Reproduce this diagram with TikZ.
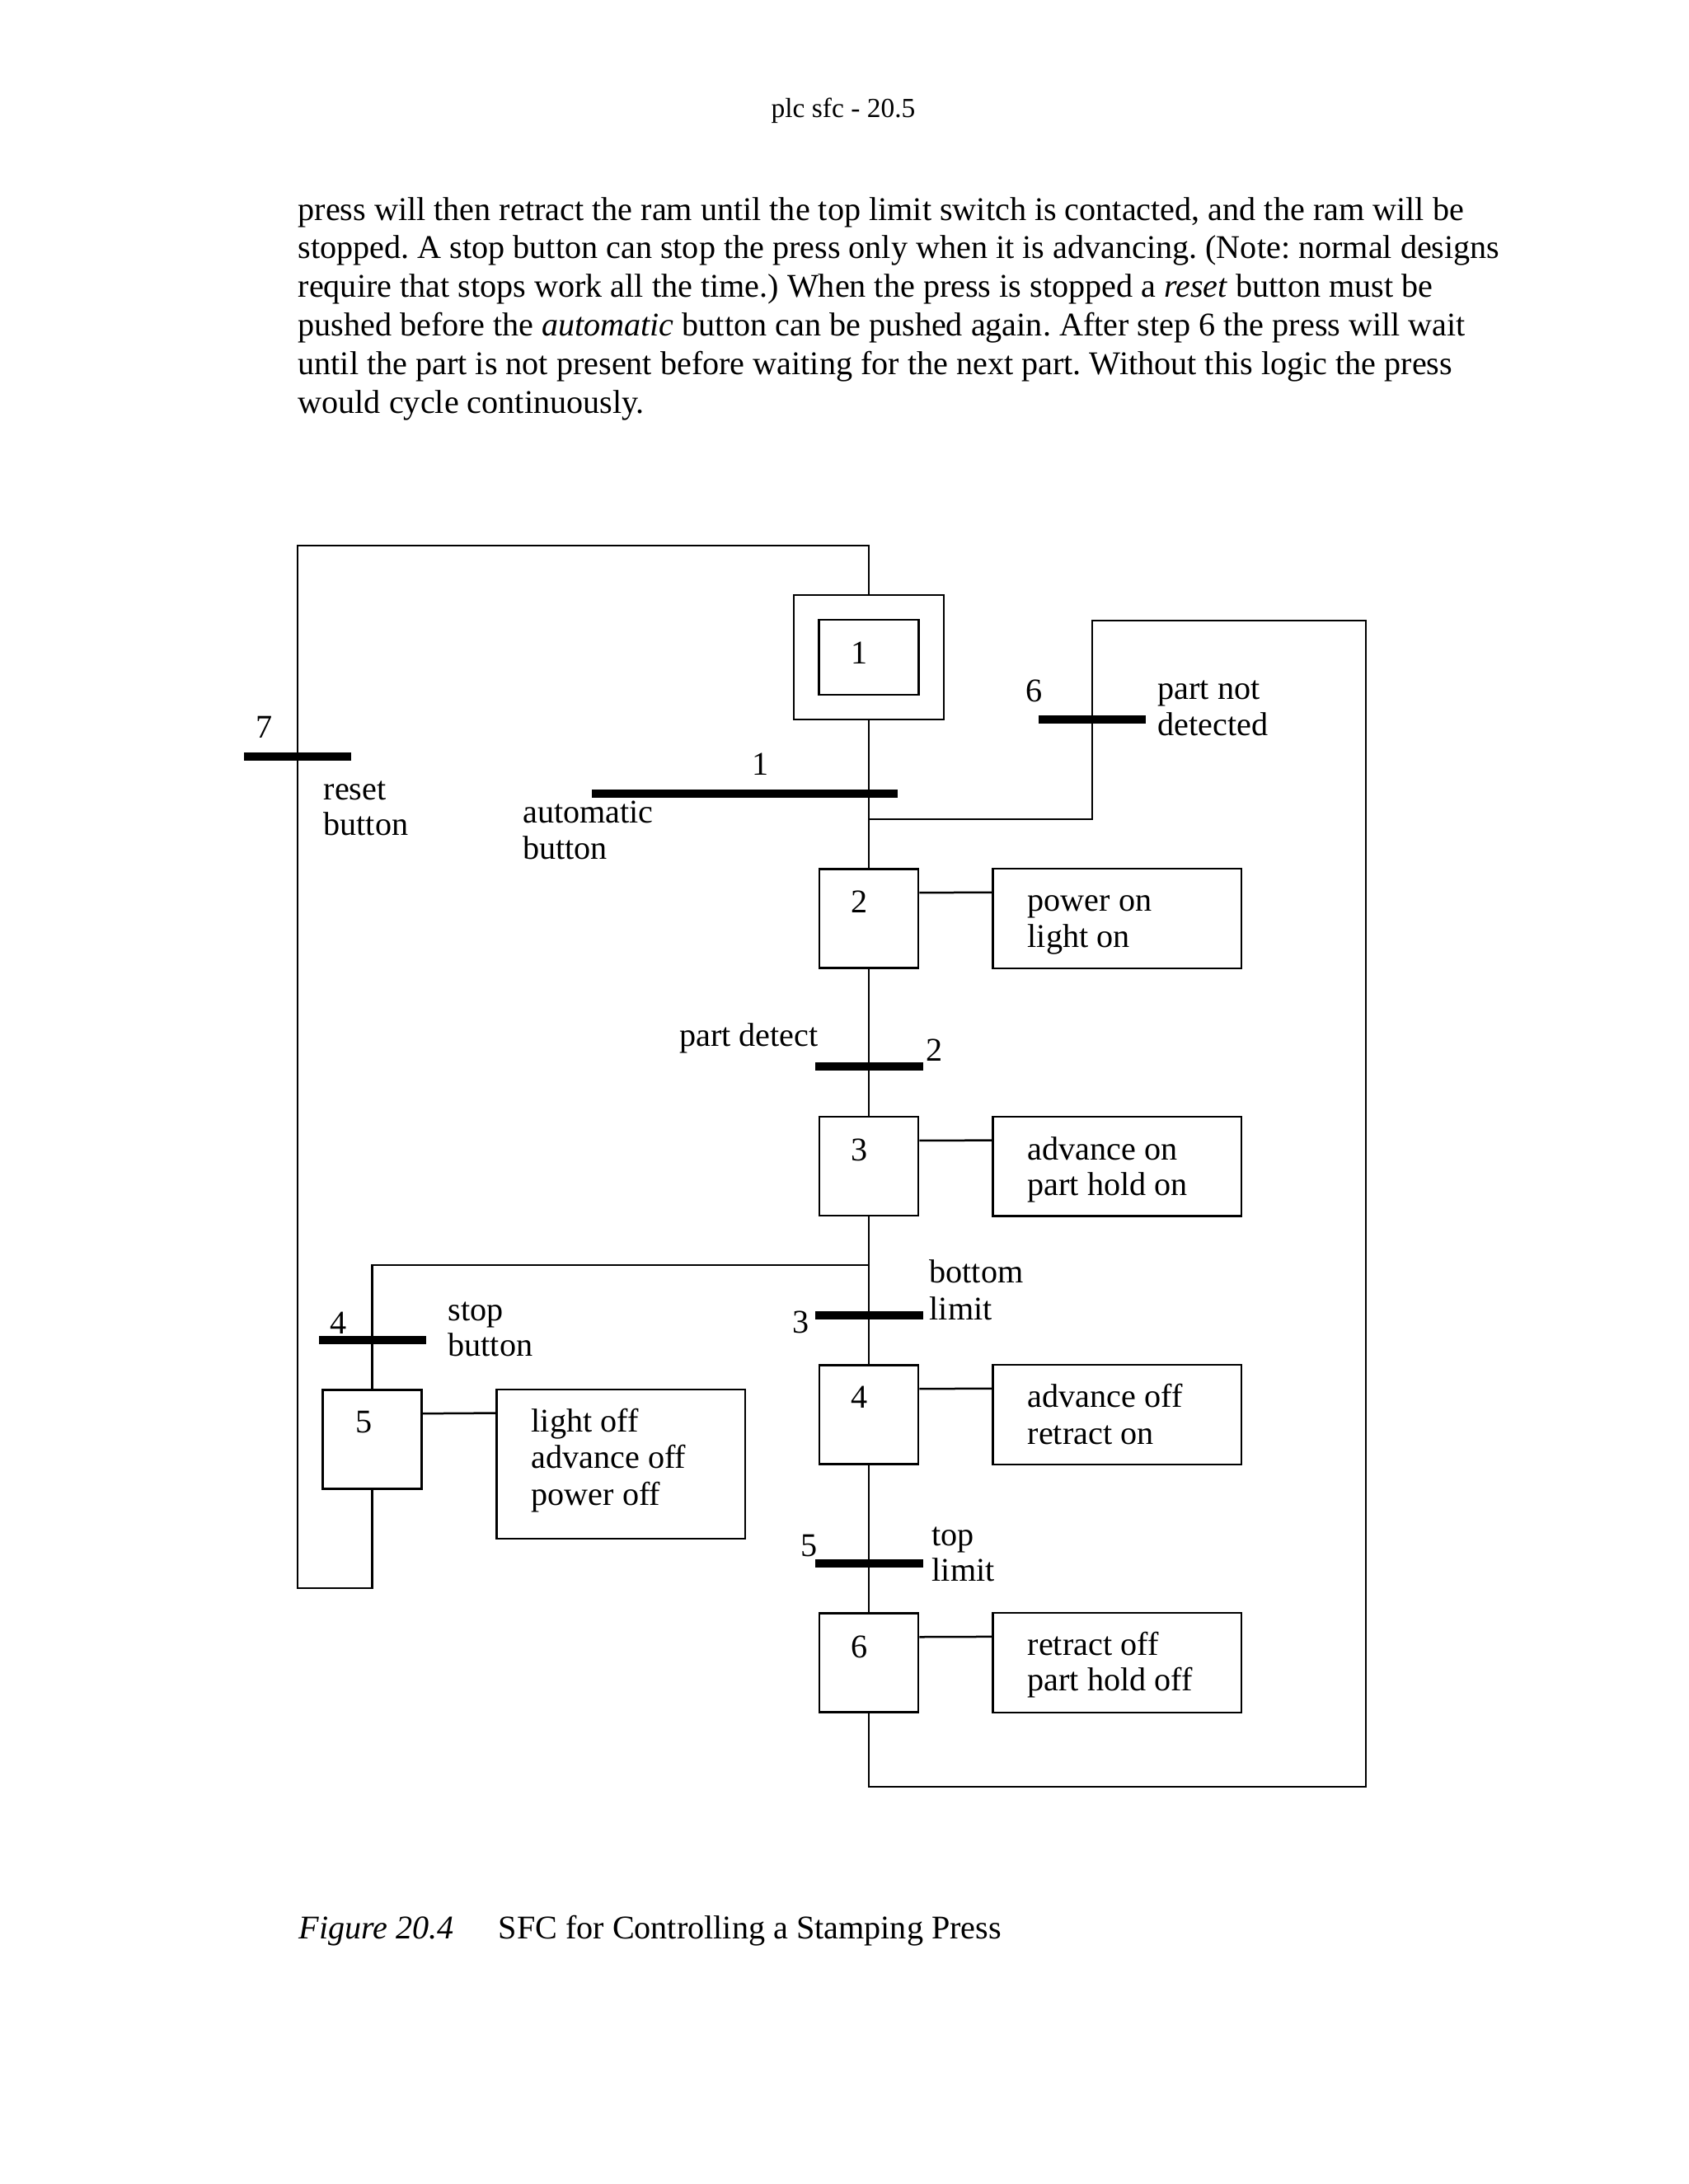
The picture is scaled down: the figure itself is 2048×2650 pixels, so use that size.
\documentclass[tikz,border=0pt]{standalone}
\usepackage{fontspec}
\setmainfont{Liberation Serif}
\usetikzlibrary{calc}
\frenchspacing
\tikzset{
  txt/.style={inner sep=0pt, font=\fontsize{12bp}{14bp}\selectfont},
  tl/.style={txt, anchor=base west},
  num/.style={txt, anchor=center},
  stepbox/.style={draw, line width=0.75pt, inner sep=0pt, minimum width=35.86bp, minimum height=35.86bp},
  actbox/.style={draw, line width=0.75pt, inner sep=0pt, minimum width=90.07bp, minimum height=36.07bp},
  trbar/.style={fill=black, draw=none, inner sep=0pt, minimum height=3bp, minimum width=38.9bp},
  wire/.style={line width=0.75pt},
}
\begin{document}
\begin{tikzpicture}[x=0.29883bp,y=-0.29883bp]
\useasboundingbox[fill=white] (0,0) rectangle (2048,2650);

% header and paragraph
\node[txt, font=\fontsize{10bp}{12bp}\selectfont, anchor=base] (hdr) at (1023,142) {plc sfc - 20.5};
\node[tl] (p1) at (361,267) {press will then retract the ram until the top limit switch is contacted, and the ram will be};
\node[tl] (p2) at (361,313) {stopped. A stop button can stop the press only when it is advancing. (Note: normal designs};
\node[tl] (p3) at (361,360) {require that stops work all the time.) When the press is stopped a \textit{reset} button must be};
\node[tl] (p4) at (361,407) {pushed before the \textit{automatic} button can be pushed again. After step 6 the press will wait};
\node[tl] (p5) at (361,454) {until the part is not present before waiting for the next part. Without this logic the press};
\node[tl] (p6) at (361,501) {would cycle continuously.};

% steps
\node[draw, line width=0.75pt, inner sep=0pt, minimum width=54.4bp, minimum height=45.1bp] (s1o) at (1054,797.5) {};
\node[draw, line width=0.75pt, inner sep=0pt, minimum width=36.16bp, minimum height=27.2bp] (s1i) at (1054,797.5) {};
\node[stepbox] (s2) at (1054,1114.4) {};
\node[stepbox] (s3) at (1054,1415.2) {};
\node[stepbox] (s4) at (1054,1716.4) {};
\node[stepbox] (s6) at (1054,2017.5) {};
\node[stepbox] (s5) at (451.5,1746.4) {};

\node[num] (n1) at (1043,792) {1};
\node[num] (n2) at (1043,1094) {2};
\node[num] (n3) at (1043,1395.5) {3};
\node[num] (n4) at (1043,1695) {4};
\node[num] (n6) at (1043,1998) {6};
\node[num] (n5) at (442,1726) {5};

% action boxes
\node[actbox] (a2) at (1355.3,1114.4) {};
\node[actbox] (a3) at (1355.3,1415.2) {};
\node[actbox] (a4) at (1355.3,1716.4) {};
\node[actbox] (a6) at (1355.3,2017.5) {};
\node[actbox, minimum height=54.09bp] (a5) at (753.2,1776.3) {};

\node[tl] (a2l1) at (1246,1105) {power on};
\node[tl] (a2l2) at (1246,1149) {light on};
\node[tl] (a3l1) at (1246,1407) {advance on};
\node[tl] (a3l2) at (1246,1450) {part hold on};
\node[tl] (a4l1) at (1246,1707) {advance off};
\node[tl] (a4l2) at (1246,1752) {retract on};
\node[tl] (a6l1) at (1246,2008) {retract off};
\node[tl] (a6l2) at (1246,2051.5) {part hold off};
\node[tl] (a5l1) at (644,1737) {light off};
\node[tl] (a5l2) at (644,1781) {advance off};
\node[tl] (a5l3) at (644,1826) {power off};

\draw[wire] ($(s2.north east)+(0,30)$) -- ($(a2.north west)+(0,30)$);
\draw[wire] ($(s3.north east)+(0,30)$) -- ($(a3.north west)+(0,30)$);
\draw[wire] ($(s4.north east)+(0,30)$) -- ($(a4.north west)+(0,30)$);
\draw[wire] ($(s6.north east)+(0,30)$) -- ($(a6.north west)+(0,30)$);
\draw[wire] ($(s5.north east)+(0,30)$) -- ($(a5.north west)+(0,30)$);

% main flow
\coordinate (j1) at (1054,994);
\coordinate (j3) at (1054,1535);
\coordinate (rtop) at (1325,753);
\coordinate (rr) at (1657,2168);
\coordinate (lb) at (361,1927);
\coordinate (lt) at (361,662);

\draw[wire] (s1o.south) -- (s2.north);
\draw[wire] (s2.south) -- (s3.north);
\draw[wire] (s3.south) -- (s4.north);
\draw[wire] (s4.south) -- (s6.north);
\draw[wire] (s6.south) |- (rr) |- (rtop) |- (j1);
\draw[wire] (j3) -| (s5.north);
\draw[wire] (s5.south) |- (lb) -- (lt) -| (s1o.north);

% transitions
\node[trbar] (t7) at (361,917.7) {};
\node[trbar, minimum width=110.9bp] (t1) at (903.5,963) {};
\node[trbar] (t6) at (1325,873) {};
\node[trbar, minimum width=39.1bp] (t2) at (1054.5,1294) {};
\node[trbar, minimum width=39.1bp] (t3) at (1054.5,1596) {};
\node[trbar, minimum width=39.1bp] (t5) at (1054.5,1897) {};
\node[trbar] (t4) at (451.8,1626) {};

\node[num] (l7) at (321,882) {7};
\node[num] (l1) at (923,927) {1};
\node[num] (l6) at (1255,838) {6};
\node[num] (l2) at (1134,1274) {2};
\node[num] (l3) at (972,1604) {3};
\node[num] (l5) at (982,1876) {5};
\node[num] (l4) at (411,1605) {4};

\node[tl] (c7a) at (392,970) {reset};
\node[tl] (c7b) at (392,1013) {button};
\node[tl] (c1a) at (633.5,998) {automatic};
\node[tl] (c1b) at (633.5,1042) {button};
\node[tl] (c6a) at (1404,848) {part not};
\node[tl] (c6b) at (1404,892) {detected};
\node[txt, anchor=base east] (c2) at (993.4,1269.6) {part detect};
\node[tl] (c3a) at (1127,1556) {bottom};
\node[tl] (c3b) at (1127,1601) {limit};
\node[tl] (c5a) at (1130,1875) {top};
\node[tl] (c5b) at (1130,1918) {limit};
\node[tl] (c4a) at (543,1602) {stop};
\node[tl] (c4b) at (543,1645) {button};

% caption
\node[tl] (cap1) at (362,2352.5) {\textit{Figure 20.4}};
\node[tl] (cap2) at (604,2352.5) {SFC for Controlling a Stamping Press};
\end{tikzpicture}
\end{document}
